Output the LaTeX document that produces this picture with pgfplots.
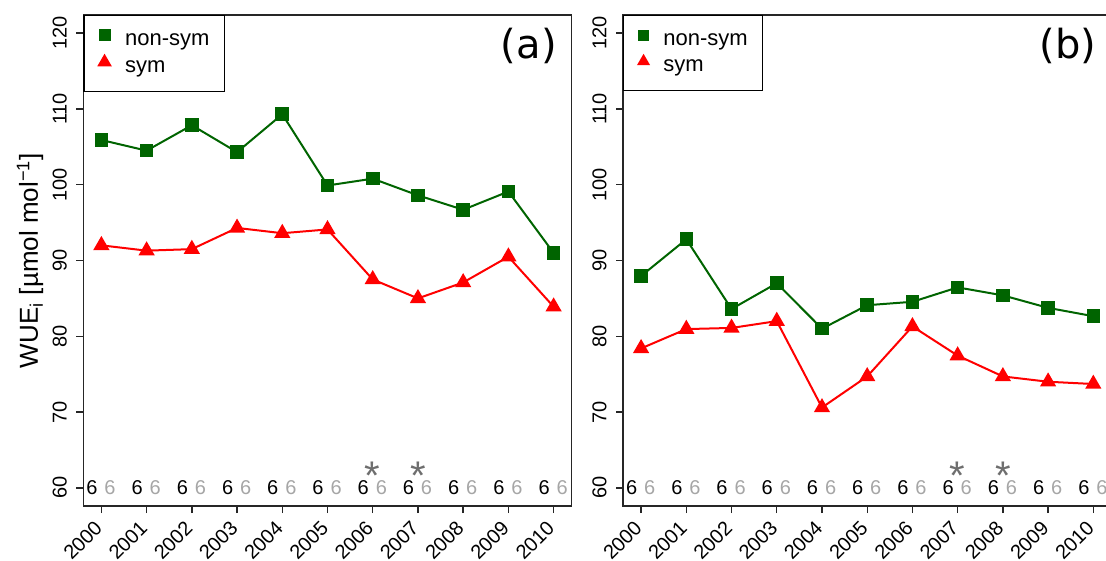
\documentclass[border=0pt]{standalone}
\usepackage{fontspec}
\setmainfont{Liberation Sans}
\newfontfamily\labfont{DejaVu Sans}
\usepackage{pgfplots}
\pgfplotsset{compat=1.18}
\definecolor{dgreen}{HTML}{006400}
\definecolor{gsix}{HTML}{A6A6A6}
\definecolor{gast}{HTML}{6E6E6E}
\newcommand\tfont{\fontsize{10}{11}\selectfont}
\pgfplotsset{
 wue/.style={
  scale only axis, width=244.2pt, height=245.5pt,
  xmin=1999.6, xmax=2010.4, ymin=57.6, ymax=122.4,
  xtick={2000,2001,2002,2003,2004,2005,2006,2007,2008,2009,2010},
  xticklabels={2000,2001,2002,2003,2004,2005,2006,2007,2008,2009,2010},
  ytick={60,70,80,90,100,110,120},
  yticklabels={60,70,80,90,100,110,120},
  xtick pos=bottom, ytick pos=left,
  tick align=outside, major tick length=3.5pt,
  axis line style={line width=0.7pt, black!85},
  tick style={line width=0.7pt, black!85},
  xticklabel style={xshift=-4pt, yshift=-2.3pt, rotate=45, anchor=north east, inner sep=0.5pt, font=\tfont},
  yticklabel style={xshift=-4pt, rotate=90, anchor=south, inner sep=0.5pt, font=\tfont},
  clip=false,
  legend style={at={(0,1)}, anchor=north west, draw=black, line width=0.7pt,
    inner xsep=7.5pt, inner ysep=7pt, row sep=2.5pt, column sep=7.5pt,
    font=\fontsize{11}{12}\selectfont,
    nodes={inner sep=0pt, text height=8pt, text depth=2.5pt}},
  legend cell align=left,
 },
 nsym/.style={dgreen, line width=1pt, mark=square*, mark size=2.9pt},
 sym/.style={red, line width=1pt, mark=triangle*, mark size=3.7pt},
 legA/.style={legend image code/.code={\draw[##1, mark size=2.5pt] plot coordinates {(0pt,2.4pt)};}},
 legB/.style={legend image code/.code={\draw[##1, mark size=3.2pt] plot coordinates {(0pt,2.4pt)};}},
 legC/.style={legend image code/.code={\draw[##1, mark size=2.1pt] plot coordinates {(0pt,2.4pt)};}},
 legD/.style={legend image code/.code={\draw[##1, mark size=2.8pt] plot coordinates {(0pt,2.4pt)};}},
 sixb/.style={draw=none, mark=none, forget plot, nodes near coords={6},
   every node near coord/.append style={anchor=center, inner sep=0pt, text=black, font=\fontsize{10}{11}\selectfont}},
 sixg/.style={draw=none, mark=none, forget plot, nodes near coords={6},
   every node near coord/.append style={anchor=center, inner sep=0pt, text=gsix, font=\fontsize{10}{11}\selectfont}},
 ast/.style={draw=none, mark=none, forget plot, nodes near coords={*},
   every node near coord/.append style={anchor=base, inner sep=0pt, text=gast, font=\fontsize{20}{20}\selectfont}},
}
\begin{document}
\begin{tikzpicture}
% panel (a)
\begin{axis}[wue, at={(41.65pt,-253pt)}, anchor=south west,
  ylabel={WUE\textsubscript{i} [µmol mol\textsuperscript{−1}]},
  every axis y label/.style={at={(axis description cs:-0.109,0.5)}, rotate=90, anchor=center, font=\fontsize{13}{14}\selectfont}]
\addplot[nsym, legA] coordinates {
(2000,105.9)(2001,104.5)(2002,107.85)(2003,104.3)(2004,109.3)(2005,99.9)(2006,100.8)(2007,98.6)(2008,96.7)(2009,99.1)(2010,91.0)};
\addlegendentry{non-sym}
\addplot[sym, legB] coordinates {
(2000,92.0)(2001,91.3)(2002,91.5)(2003,94.3)(2004,93.6)(2005,94.1)(2006,87.5)(2007,85.0)(2008,87.1)(2009,90.5)(2010,83.9)};
\addlegendentry{sym}
\addplot[sixb] coordinates {(1999.79,60)(2000.79,60)(2001.79,60)(2002.79,60)(2003.79,60)(2004.79,60)(2005.79,60)(2006.79,60)(2007.79,60)(2008.79,60)(2009.79,60)};
\addplot[sixg] coordinates {(2000.19,60)(2001.19,60)(2002.19,60)(2003.19,60)(2004.19,60)(2005.19,60)(2006.19,60)(2007.19,60)(2008.19,60)(2009.19,60)(2010.19,60)};
\addplot[ast] coordinates {(2006,59.8)(2007,59.8)};
\node[anchor=north east, inner sep=0pt, font=\labfont\fontsize{20}{20}\selectfont] at (axis description cs:0.970,0.9735) {(a)};
\end{axis}
% panel (b)
\begin{axis}[wue, at={(311.5pt,-253pt)}, anchor=south west]
\addplot[nsym, legC] coordinates {
(2000,87.95)(2001,92.8)(2002,83.6)(2003,87.0)(2004,81.0)(2005,84.1)(2006,84.55)(2007,86.45)(2008,85.4)(2009,83.75)(2010,82.65)};
\addlegendentry{non-sym}
\addplot[sym, legD] coordinates {
(2000,78.4)(2001,80.95)(2002,81.1)(2003,82.0)(2004,70.6)(2005,74.7)(2006,81.3)(2007,77.45)(2008,74.7)(2009,74.0)(2010,73.7)};
\addlegendentry{sym}
\addplot[sixb] coordinates {(1999.79,60)(2000.79,60)(2001.79,60)(2002.79,60)(2003.79,60)(2004.79,60)(2005.79,60)(2006.79,60)(2007.79,60)(2008.79,60)(2009.79,60)};
\addplot[sixg] coordinates {(2000.19,60)(2001.19,60)(2002.19,60)(2003.19,60)(2004.19,60)(2005.19,60)(2006.19,60)(2007.19,60)(2008.19,60)(2009.19,60)(2010.19,60)};
\addplot[ast] coordinates {(2007,59.8)(2008,59.8)};
\node[anchor=north east, inner sep=0pt, font=\labfont\fontsize{20}{20}\selectfont] at (axis description cs:0.970,0.9735) {(b)};
\end{axis}
\pgfresetboundingbox
\path[use as bounding box] (0,0) rectangle (553pt,-280.5pt);
\end{tikzpicture}
\end{document}
